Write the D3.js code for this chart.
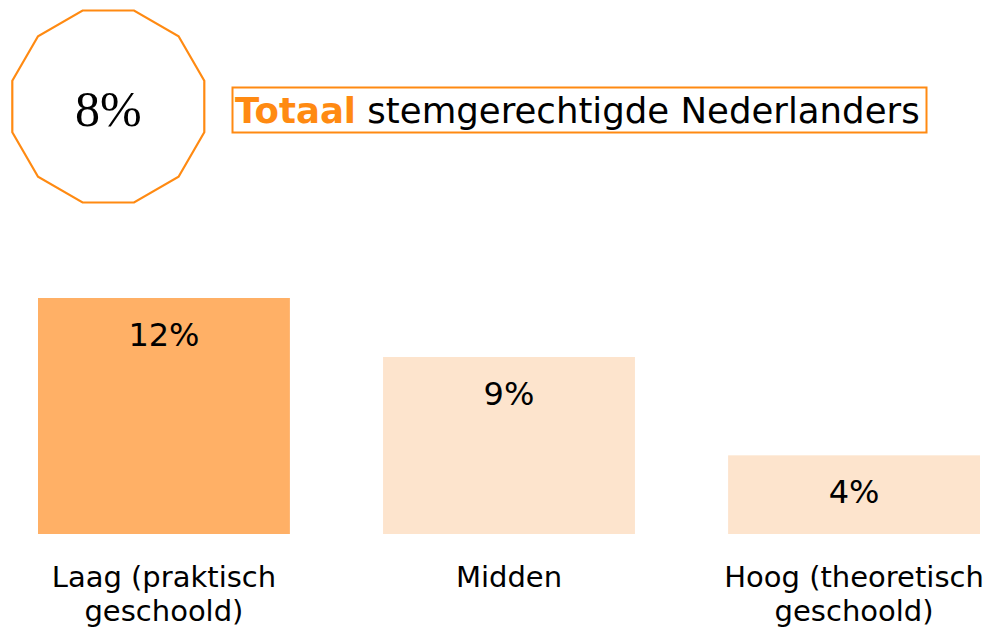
<!DOCTYPE html>
<html>
<head>
<meta charset="utf-8">
<script src="https://cdn.jsdelivr.net/npm/d3@7"></script>
<style>
  html, body { margin: 0; padding: 0; background: #ffffff; }
  svg { display: block; }
</style>
</head>
<body>
<svg id="chart" width="994" height="630"></svg>
<script>
// ---- data ----
const totalValue = 8;
const totalLabelBold = "Totaal";
const totalLabelRest = " stemgerechtigde Nederlanders";
const categories = [["Laag (praktisch", "geschoold)"], ["Midden"], ["Hoog (theoretisch", "geschoold)"]];
const values = [12, 9, 4];
const barColors = ["#FFB066", "#FDE4CD", "#FDE4CD"];

// ---- styles ----
const orange = "#FF8A12";
const sansFont = "'DejaVu Sans', 'Liberation Sans', sans-serif";
const serifFont = "'Liberation Serif', 'DejaVu Serif', serif";

const svg = d3.select("#chart");

// ---- total badge: dodecagon ----
const cx = 108.3, cy = 106.5, apothem = 96;
const R = apothem / Math.cos(Math.PI / 12);
const angles = d3.range(12).map(i => Math.PI / 12 + i * Math.PI / 6);
const poly = angles.map(a => [cx + R * Math.cos(a), cy + R * Math.sin(a)]);
svg.append("path")
  .attr("d", d3.line().curve(d3.curveLinearClosed)(poly))
  .attr("fill", "#ffffff")
  .attr("stroke", orange)
  .attr("stroke-width", 2.2);

svg.append("text")
  .attr("x", cx)
  .attr("y", 125.5)
  .attr("text-anchor", "middle")
  .attr("font-family", serifFont)
  .attr("font-size", 50)
  .attr("fill", "#000")
  .text(d3.format(".0f")(totalValue) + "%");

// ---- title box ----
svg.append("rect")
  .attr("x", 232.5).attr("y", 87.5)
  .attr("width", 694).attr("height", 45)
  .attr("fill", "none")
  .attr("stroke", orange)
  .attr("stroke-width", 2);

const title = svg.append("text")
  .attr("x", 235)
  .attr("y", 123.3)
  .attr("font-family", sansFont)
  .attr("font-size", 35);
title.append("tspan").attr("font-weight", "bold").attr("fill", orange).text(totalLabelBold);
title.append("tspan").attr("fill", "#000").text(totalLabelRest);
// fit width to the box
const targetW = 685;
const w0 = title.node().getComputedTextLength();
if (w0 > 0) title.attr("font-size", 35 * targetW / w0);

// ---- bars ----
const x = d3.scaleBand()
  .domain(d3.range(values.length))
  .range([38, 980])
  .paddingInner(0.27)
  .paddingOuter(0);

const y = d3.scaleLinear()
  .domain([0, 12])
  .range([534, 298]);

svg.selectAll("rect.bar")
  .data(values)
  .join("rect")
  .attr("class", "bar")
  .attr("x", (d, i) => x(i))
  .attr("y", d => y(d))
  .attr("width", x.bandwidth())
  .attr("height", d => y(0) - y(d))
  .attr("fill", (d, i) => barColors[i]);

svg.selectAll("text.val")
  .data(values)
  .join("text")
  .attr("class", "val")
  .attr("x", (d, i) => x(i) + x.bandwidth() / 2)
  .attr("y", d => y(d) + 48)
  .attr("text-anchor", "middle")
  .attr("font-family", sansFont)
  .attr("font-size", 32)
  .attr("fill", "#000")
  .text(d => d + "%");

// ---- category labels ----
const catG = svg.selectAll("text.cat")
  .data(categories)
  .join("text")
  .attr("class", "cat")
  .attr("x", (d, i) => x(i) + x.bandwidth() / 2)
  .attr("y", 587)
  .attr("text-anchor", "middle")
  .attr("font-family", sansFont)
  .attr("font-size", 29)
  .attr("fill", "#000");
catG.selectAll("tspan")
  .data(d => d)
  .join("tspan")
  .attr("x", function () { return d3.select(this.parentNode).attr("x"); })
  .attr("dy", (d, i) => i === 0 ? 0 : 34)
  .text(d => d);
</script>
</body>
</html>
